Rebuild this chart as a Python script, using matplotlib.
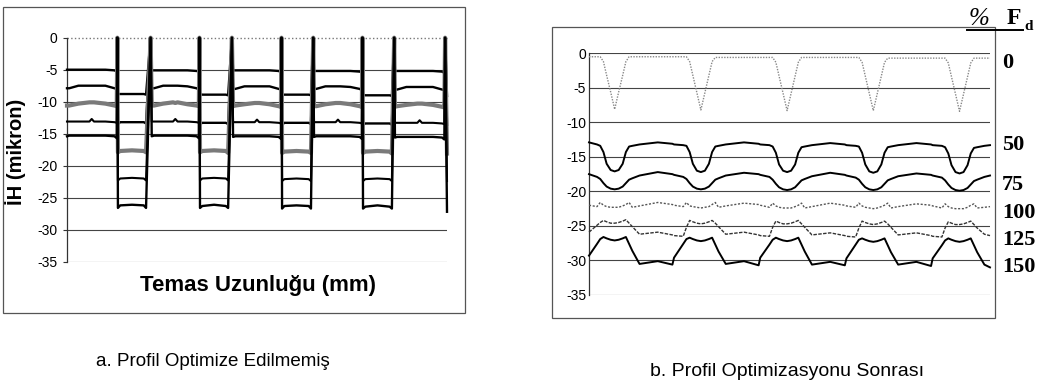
import matplotlib
matplotlib.use("Agg")
import matplotlib.pyplot as plt
from matplotlib.patches import Rectangle
from matplotlib.lines import Line2D

# ---- panel a: profile not optimised (contact length, arbitrary 0-100) ----
xa = [
    0.0, 0.6, 3.0, 5.9, 6.5, 7.1, 10.1, 12.5, 13.1, 13.25, 13.4, 14.0, 17.1, 20.2, 20.8, 22.0,
    22.3, 22.9, 25.3, 27.9, 28.5, 29.1, 31.7, 34.1, 34.7, 34.85, 35.0, 35.6, 38.7, 41.8, 42.4, 43.4,
    43.7, 44.3, 46.7, 49.4, 50.0, 50.6, 53.3, 55.7, 56.3, 56.45, 56.6, 57.2, 60.4, 63.6, 64.2, 64.8,
    65.0, 65.6, 68.0, 70.7, 71.3, 71.9, 74.6, 77.0, 77.6, 77.75, 77.9, 78.5, 81.7, 84.9, 85.5, 86.1,
    86.3, 86.9, 89.3, 92.2, 92.8, 93.4, 96.3, 98.7, 99.3, 99.5, 100.0,
]
a1 = [
    -5.0, -5.0, -5.0, -5.0, -5.0, -5.0, -5.0, -5.1, -5.3, 0, -8.8, -8.8, -8.8, -8.8, -8.9, 0,
    -5.1, -5.1, -5.1, -5.1, -5.1, -5.1, -5.1, -5.2, -5.3, 0, -8.8, -8.9, -8.9, -8.9, -9.0, 0,
    -5.1, -5.1, -5.1, -5.1, -5.1, -5.1, -5.1, -5.2, -5.4, 0, -8.9, -8.9, -8.9, -8.9, -9.0, 0,
    -5.2, -5.2, -5.2, -5.2, -5.2, -5.2, -5.2, -5.3, -5.4, 0, -8.9, -9.0, -9.0, -9.0, -9.1, 0,
    -5.2, -5.2, -5.2, -5.2, -5.2, -5.2, -5.2, -5.3, -5.5, 0, -9.1,
]
a2 = [
    -7.9, -7.9, -7.5, -7.5, -7.5, -7.5, -7.5, -7.9, -8.0, 0, -13.5, -13.2, -13.2, -13.2, -13.4, 0,
    -7.9, -7.9, -7.5, -7.5, -7.5, -7.5, -7.6, -7.9, -8.1, 0, -13.5, -13.3, -13.3, -13.3, -13.5, 0,
    -8.0, -8.0, -7.6, -7.6, -7.6, -7.6, -7.6, -8.0, -8.1, 0, -13.6, -13.3, -13.3, -13.3, -13.5, 0,
    -8.0, -8.0, -7.6, -7.6, -7.6, -7.6, -7.7, -8.0, -8.2, 0, -13.6, -13.4, -13.4, -13.4, -13.6, 0,
    -8.1, -8.1, -7.7, -7.7, -7.7, -7.7, -7.7, -8.1, -8.2, 0, -13.6,
]
a3 = [
    -10.6, -10.6, -10.3, -10.1, -10.1, -10.1, -10.3, -10.6, -10.7, 0, -17.9, -17.7, -17.6, -17.7, -17.9, 0,
    -10.6, -10.6, -10.3, -10.1, -10.2, -10.1, -10.4, -10.6, -10.7, 0, -17.9, -17.7, -17.6, -17.7, -18.0, 0,
    -10.7, -10.6, -10.4, -10.2, -10.2, -10.2, -10.4, -10.7, -10.8, 0, -18.0, -17.8, -17.7, -17.8, -18.0, 0,
    -10.7, -10.7, -10.4, -10.2, -10.2, -10.2, -10.4, -10.7, -10.8, 0, -18.0, -17.8, -17.7, -17.8, -18.1, 0,
    -10.8, -10.7, -10.5, -10.3, -10.3, -10.3, -10.5, -10.8, -10.9, 0, -18.1,
]
a4 = [
    -13.1, -13.1, -13.1, -13.1, -12.7, -13.1, -13.1, -13.2, -13.3, 0, -22.3, -22.0, -21.9, -22.0, -22.3, 0,
    -13.1, -13.1, -13.1, -13.1, -12.7, -13.1, -13.1, -13.2, -13.3, 0, -22.3, -22.0, -21.9, -22.0, -22.3, 0,
    -13.2, -13.2, -13.2, -13.2, -12.8, -13.2, -13.2, -13.3, -13.4, 0, -22.4, -22.1, -22.0, -22.1, -22.4, 0,
    -13.2, -13.2, -13.2, -13.2, -12.8, -13.2, -13.2, -13.3, -13.4, 0, -22.4, -22.1, -22.0, -22.1, -22.4, 0,
    -13.3, -13.3, -13.3, -13.3, -12.9, -13.3, -13.3, -13.4, -13.5, 0, -22.4,
]
a5 = [
    -15.4, -15.3, -15.3, -15.3, -15.3, -15.3, -15.3, -15.4, -15.7, 0, -26.6, -26.2, -26.1, -26.2, -26.6, 0,
    -15.4, -15.3, -15.3, -15.3, -15.3, -15.3, -15.3, -15.4, -15.7, 0, -26.6, -26.3, -26.1, -26.3, -26.6, 0,
    -15.5, -15.4, -15.4, -15.4, -15.4, -15.4, -15.4, -15.5, -15.8, 0, -26.7, -26.3, -26.2, -26.3, -26.7, 0,
    -15.5, -15.4, -15.4, -15.4, -15.4, -15.4, -15.4, -15.5, -15.8, 0, -26.7, -26.4, -26.2, -26.4, -26.7, 0,
    -15.6, -15.5, -15.5, -15.5, -15.5, -15.5, -15.5, -15.6, -15.9, 0, -27.2,
]

# ---- panel b: after profile optimisation ----
xb = [
    0.0, 2.0,
    2.8, 3.6, 4.4, 5.4, 6.4, 7.4, 8.4, 9.2, 10.0, 10.8, 12.6, 17.15, 20.8, 21.2, 23.5,
    24.3, 25.1, 25.9, 26.9, 27.9, 28.9, 29.9, 30.7, 31.5, 32.3, 34.1, 38.65, 42.3, 42.7, 45.0,
    45.8, 46.6, 47.4, 48.4, 49.4, 50.4, 51.4, 52.2, 53.0, 53.8, 55.6, 60.15, 63.8, 64.2, 66.5,
    67.3, 68.1, 68.9, 69.9, 70.9, 71.9, 72.9, 73.7, 74.5, 75.3, 77.1, 81.65, 85.3, 85.7, 88.0,
    88.8, 89.6, 90.4, 91.4, 92.4, 93.4, 94.4, 95.2, 96.0, 96.8, 98.6, 100.0,
]
fd0 = [
    -0.5, -0.5,
    -0.5, -1.2, -3.2, -5.6, -8.1, -5.6, -3.2, -1.2, -0.5, -0.5, -0.5, -0.5, -0.5, -0.5, -0.5,
    -0.5, -1.2, -3.2, -5.7, -8.2, -5.7, -3.2, -1.2, -0.6, -0.6, -0.6, -0.6, -0.6, -0.6, -0.6,
    -0.6, -1.3, -3.3, -5.8, -8.3, -5.8, -3.3, -1.3, -0.6, -0.6, -0.6, -0.6, -0.6, -0.6, -0.6,
    -0.6, -1.3, -3.3, -5.8, -8.3, -5.8, -3.3, -1.3, -0.7, -0.7, -0.7, -0.7, -0.7, -0.7, -0.7,
    -0.7, -1.4, -3.4, -5.9, -8.4, -5.9, -3.4, -1.4, -0.7, -0.7, -0.7, -0.7,
]
fd50 = [
    -12.9, -13.2,
    -13.4, -14.3, -16.0, -16.9, -17.1, -16.9, -16.0, -14.3, -13.5, -13.4, -13.2, -12.9, -13.1, -13.2, -13.3,
    -13.4, -14.3, -16.0, -17.0, -17.2, -17.0, -16.0, -14.3, -13.5, -13.4, -13.2, -12.9, -13.1, -13.2, -13.3,
    -13.5, -14.4, -16.1, -17.0, -17.2, -17.0, -16.1, -14.4, -13.6, -13.5, -13.3, -13.0, -13.2, -13.3, -13.4,
    -13.5, -14.4, -16.1, -17.1, -17.3, -17.1, -16.1, -14.4, -13.6, -13.5, -13.3, -13.0, -13.2, -13.3, -13.4,
    -13.6, -14.5, -16.2, -17.2, -17.4, -17.2, -16.2, -14.5, -13.7, -13.6, -13.4, -13.3,
]
fd75 = [
    -17.5, -17.9,
    -18.2, -18.8, -19.3, -19.6, -19.7, -19.6, -19.3, -18.8, -18.3, -18.1, -17.7, -17.2, -17.5, -17.6, -17.9,
    -18.2, -18.8, -19.3, -19.6, -19.7, -19.6, -19.3, -18.8, -18.3, -18.1, -17.7, -17.3, -17.5, -17.6, -17.9,
    -18.3, -18.9, -19.4, -19.7, -19.8, -19.7, -19.4, -18.9, -18.4, -18.2, -17.8, -17.3, -17.6, -17.7, -18.0,
    -18.3, -18.9, -19.4, -19.7, -19.8, -19.7, -19.4, -18.9, -18.4, -18.2, -17.8, -17.4, -17.6, -17.7, -18.0,
    -18.4, -19.0, -19.5, -19.8, -19.9, -19.8, -19.5, -19.0, -18.5, -18.3, -17.9, -17.7,
]
fd100 = [
    -22.0, -22.2,
    -21.6, -22.0, -22.2, -22.3, -22.3, -22.3, -22.1, -21.9, -21.6, -22.3, -22.1, -21.6, -21.9, -22.0, -22.2,
    -21.6, -22.1, -22.2, -22.3, -22.4, -22.3, -22.2, -21.9, -21.6, -22.3, -22.1, -21.7, -21.9, -22.0, -22.3,
    -21.7, -22.1, -22.3, -22.4, -22.4, -22.4, -22.2, -22.0, -21.7, -22.4, -22.2, -21.7, -22.0, -22.1, -22.3,
    -21.7, -22.1, -22.3, -22.4, -22.5, -22.4, -22.2, -22.0, -21.7, -22.4, -22.2, -21.8, -22.0, -22.1, -22.4,
    -21.8, -22.2, -22.4, -22.5, -22.5, -22.5, -22.3, -22.0, -21.8, -22.4, -22.3, -22.2,
]
fd125 = [
    -25.9, -24.9,
    -24.5, -24.2, -24.4, -24.6, -24.6, -24.5, -24.3, -24.1, -24.6, -25.1, -26.2, -25.9, -26.3, -26.4, -26.5,
    -25.2, -24.2, -24.4, -24.6, -24.7, -24.6, -24.4, -24.2, -24.6, -25.1, -26.2, -25.9, -26.3, -26.4, -26.5,
    -25.2, -24.3, -24.5, -24.7, -24.7, -24.6, -24.4, -24.2, -24.7, -25.2, -26.3, -26.0, -26.4, -26.5, -26.6,
    -25.3, -24.3, -24.5, -24.7, -24.8, -24.7, -24.5, -24.3, -24.7, -25.2, -26.3, -26.0, -26.4, -26.5, -26.6,
    -25.3, -24.4, -24.6, -24.8, -24.8, -24.7, -24.5, -24.3, -24.8, -25.3, -26.2, -26.4,
]
fd150 = [
    -29.3, -27.6,
    -26.9, -26.6, -26.8, -27.0, -27.1, -27.0, -26.8, -26.6, -27.6, -28.6, -30.5, -30.1, -30.6, -29.6, -27.6,
    -26.9, -26.7, -26.9, -27.1, -27.2, -27.1, -26.9, -26.7, -27.7, -28.7, -30.5, -30.1, -30.7, -29.6, -27.7,
    -27.0, -26.7, -26.9, -27.1, -27.2, -27.1, -26.9, -26.7, -27.7, -28.7, -30.6, -30.2, -30.7, -29.7, -27.7,
    -27.0, -26.8, -27.0, -27.2, -27.3, -27.2, -27.0, -26.8, -27.8, -28.8, -30.6, -30.2, -30.8, -29.7, -27.8,
    -27.1, -26.8, -27.0, -27.2, -27.3, -27.2, -27.0, -26.8, -27.8, -28.8, -30.6, -31.0,
]

yticks = [0, -5, -10, -15, -20, -25, -30, -35]
load_labels = ["0", "50", "75", "100", "125", "150"]
load_label_y = [63, 145, 185, 213, 240, 267]   # pixel rows in the figure

W, H = 1043, 389
plt.rcParams['font.family'] = ['Liberation Sans', 'DejaVu Sans']
plt.rcParams['axes.unicode_minus'] = False
fig = plt.figure(figsize=(W / 100, H / 100), dpi=100)


def fx(px):
    return px / W


def fy(py):
    return 1 - py / H


# outer frames
for (x0, y0, x1, y1) in [(3, 7, 465, 313), (552, 27, 995, 318)]:
    fig.add_artist(Rectangle((fx(x0), fy(y1)), fx(x1) - fx(x0), fy(y0) - fy(y1),
                             transform=fig.transFigure, fill=False,
                             edgecolor='#555555', lw=0.9))

# ---- left panel ----
axa = fig.add_axes([fx(67), fy(261.7), fx(447) - fx(67), fy(37.7) - fy(261.7)])
axa.set_xlim(0, 100)
axa.set_ylim(-35, 0)
for y in yticks[1:]:
    axa.axhline(y, color='#444444', lw=0.8, zorder=1)
axa.axhline(0, color='#777777', lw=1.0, ls=':', zorder=1, clip_on=False)
kw = dict(clip_on=False, zorder=3)
axa.plot(xa, a1, color='black', lw=1.7, **kw)
axa.plot(xa, a2, color='black', lw=1.7, **kw)
axa.plot(xa, a3, color='#7a7a7a', lw=3.0, **kw)
axa.plot(xa, a4, color='black', lw=1.5, **kw)
axa.plot(xa, a5, color='black', lw=1.7, **kw)
axa.set_yticks(yticks)
axa.set_xticks([])
for s in ['top', 'right', 'bottom']:
    axa.spines[s].set_visible(False)
axa.spines['left'].set_color('#333333')
axa.spines['left'].set_linewidth(0.9)
axa.tick_params(axis='y', length=3, pad=4, labelsize=10, color='#333333')
fig.text(fx(16), fy(152), 'İH (mikron)', rotation=90, ha='center', va='center',
         fontsize=14.5, fontweight='bold')
fig.text(fx(258), fy(286), 'Temas Uzunluğu (mm)', ha='center', va='center',
         fontsize=16, fontweight='bold')

# ---- right panel ----
axb = fig.add_axes([fx(589), fy(295), fx(990) - fx(589), fy(53.3) - fy(295)])
axb.set_xlim(0, 100)
axb.set_ylim(-35, 0)
for y in yticks:
    axb.axhline(y, color='#444444', lw=0.8, zorder=1)
axb.plot(xb, fd0, color='#888888', lw=1.0, ls=(0, (1, 1)), **kw)
axb.plot(xb, fd50, color='black', lw=1.4, **kw)
axb.plot(xb, fd75, color='black', lw=1.4, **kw)
axb.plot(xb, fd100, color='#555555', lw=1.0, ls=(0, (1.5, 1.2)), **kw)
axb.plot(xb, fd125, color='#333333', lw=1.0, ls=(0, (2.5, 1)), **kw)
axb.plot(xb, fd150, color='black', lw=1.4, **kw)
axb.set_yticks(yticks)
axb.set_xticks([])
for s in ['top', 'right', 'bottom']:
    axb.spines[s].set_visible(False)
axb.spines['left'].set_color('#333333')
axb.spines['left'].set_linewidth(0.9)
axb.tick_params(axis='y', length=0, pad=2, labelsize=10)

serif = ['Liberation Serif', 'DejaVu Serif']
for lab, py in zip(load_labels, load_label_y):
    fig.text(fx(1002), fy(py), lab, ha='left', va='center', fontsize=16,
             fontweight='bold', family=serif)
fig.text(fx(969), fy(19), '%', ha='left', va='center', fontsize=18,
         style='italic', family=serif)
fig.text(fx(1007), fy(19), 'F', ha='left', va='center', fontsize=17,
         fontweight='bold', family=serif)
fig.text(fx(1024), fy(27), 'd', ha='left', va='center', fontsize=11,
         fontweight='bold', family=serif)
fig.add_artist(Line2D([fx(967), fx(1023)], [fy(30), fy(30)],
                      transform=fig.transFigure, color='black', lw=1.4))

# captions
fig.text(fx(213), fy(362), 'a. Profil Optimize Edilmemiş', ha='center', va='center',
         fontsize=13.5)
fig.text(fx(787), fy(372), 'b. Profil Optimizasyonu Sonrası', ha='center', va='center',
         fontsize=14)

fig.savefig('out.png', dpi=100)
